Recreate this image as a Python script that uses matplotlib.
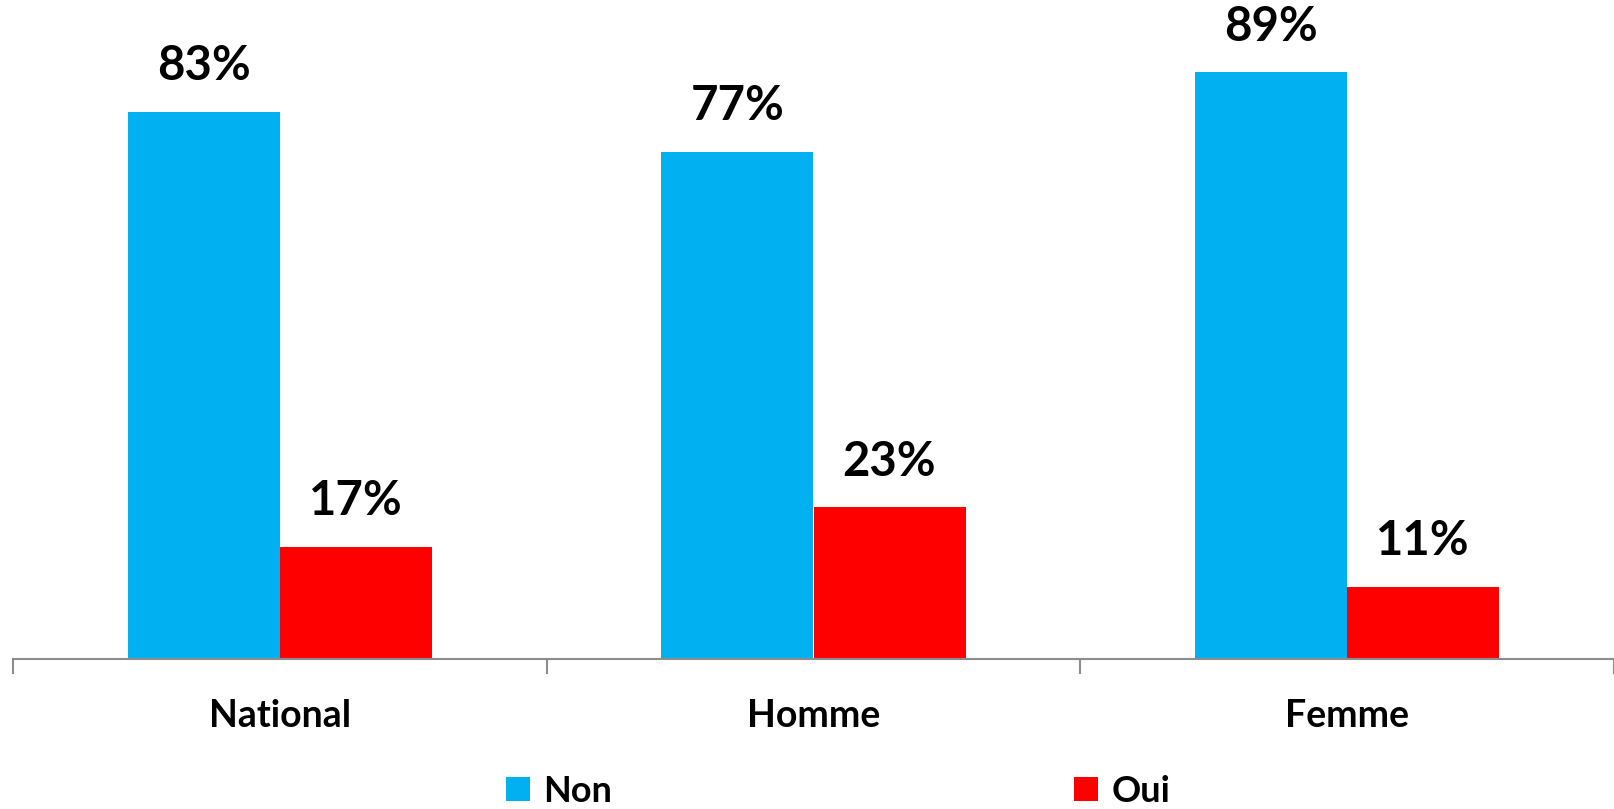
import numpy as np
import matplotlib.pyplot as plt

# data
categories = ["National", "Homme", "Femme"]
non = [83, 77, 89]
oui = [17, 23, 11]
series_names = ["Non", "Oui"]

plt.rcParams['font.family'] = ['Lato', 'DejaVu Sans']

fig = plt.figure(figsize=(16.14, 8.09), dpi=100)
ax = fig.add_axes([13 / 1614, 150 / 809, 1601 / 1614, 659 / 809])

x = np.arange(len(categories))
w = 0.285
b1 = ax.bar(x - w / 2, non, w, color="#00B0F0", label=series_names[0])
b2 = ax.bar(x + w / 2, oui, w, color="#FF0000", label=series_names[1])

for bars, vals in ((b1, non), (b2, oui)):
    for r, v in zip(bars, vals):
        ax.annotate(f"{v}%", (r.get_x() + r.get_width() / 2, v),
                    xytext=(0, 17), textcoords="offset points",
                    ha="center", va="bottom", fontsize=34, fontweight="bold")

ax.set_xlim(-0.5, 2.5)
ax.set_ylim(0, 100)
ax.set_yticks([])
for s in ("left", "right", "top"):
    ax.spines[s].set_visible(False)
ax.spines["bottom"].set_color("#8c8c8c")
ax.spines["bottom"].set_linewidth(1.5)

ax.set_xticks(x)
ax.set_xticklabels(categories, fontsize=27, fontweight="bold")
ax.tick_params(axis="x", which="major", length=0, pad=29)
ax.set_xticks([-0.5, 0.5, 1.5, 2.5], minor=True)
ax.tick_params(axis="x", which="minor", length=11, width=1.5, color="#8c8c8c")

fig.legend(loc="center", bbox_to_anchor=(838 / 1614, 1 - 791 / 809),
           ncol=2, frameon=False, prop={"size": 26, "weight": "bold"},
           handlelength=0.67, handleheight=0.67, handletextpad=0.36,
           columnspacing=12.8)

fig.savefig("out.png", dpi=100)
